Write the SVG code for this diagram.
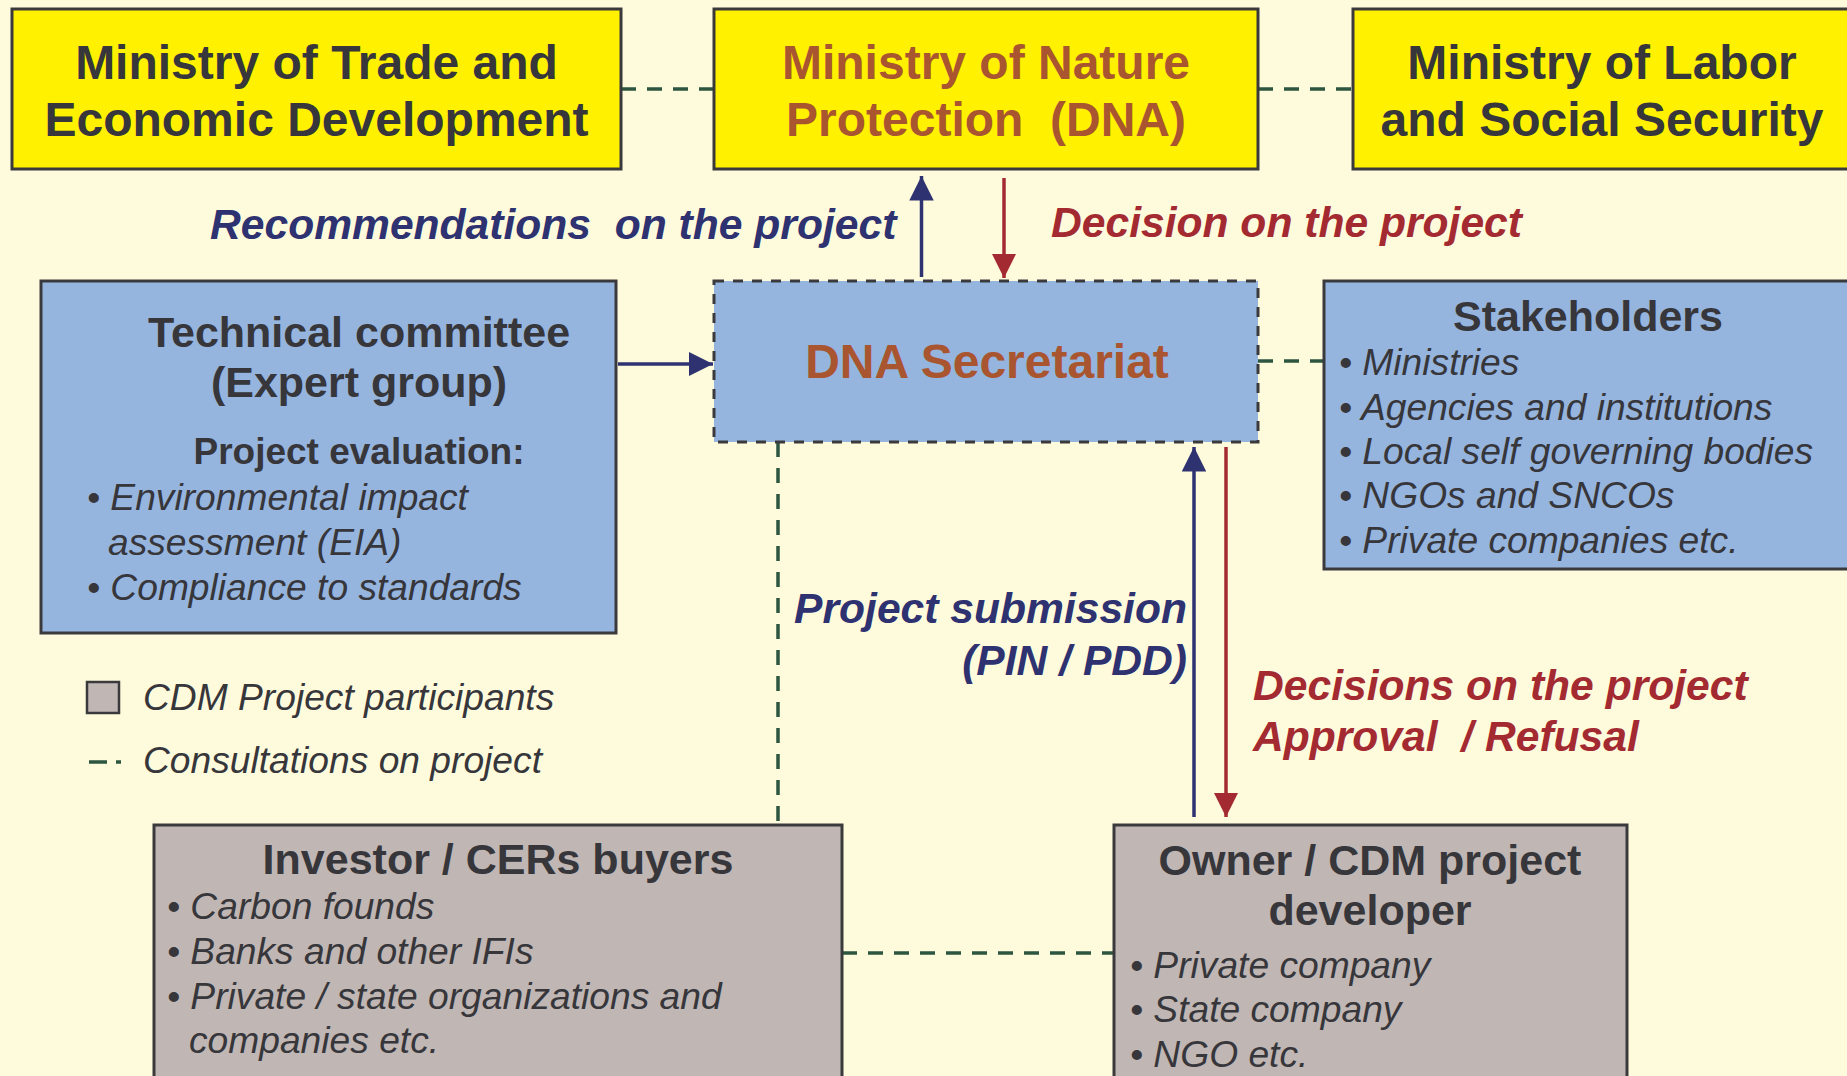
<svg xmlns="http://www.w3.org/2000/svg" width="1847" height="1076" viewBox="0 0 1847 1076">
<defs>
<style>
.bg{fill:#FEFBDD}
.yel{fill:#FFF100;stroke:#3A3A3C;stroke-width:3}
.blu{fill:#95B4DE;stroke:#3A3A3C;stroke-width:3}
.gry{fill:#C0B6B4;stroke:#3A3A3C;stroke-width:3}
.sec{fill:#95B4DE;stroke:#3A3A3C;stroke-width:3;stroke-dasharray:10 9}
text{font-family:"Liberation Sans",Arial,Helvetica,sans-serif;fill:#36363B}
.t48{font-size:48px;font-weight:bold}
.h42{font-size:43px;font-weight:bold}
.h37{font-size:37px;font-weight:bold}
.it{font-size:37.2px;font-style:italic}
.c{text-anchor:middle}
.brown{fill:#A9552F}
.navy{fill:#2E3270;font-size:42.6px;font-weight:bold;font-style:italic;white-space:pre}
.red{fill:#A42A31;font-size:42.6px;font-weight:bold;font-style:italic;white-space:pre}
.cons{fill:none;stroke:#2C5640;stroke-width:3.5;stroke-dasharray:15 11}
.nv{stroke:#2E3270;stroke-width:3.5;fill:none}
.rd{stroke:#A42A31;stroke-width:3.5;fill:none}
</style>
<marker id="ahN" viewBox="0 0 10 10" refX="10" refY="5" markerWidth="7" markerHeight="7" markerUnits="strokeWidth" orient="auto"><path d="M0,0 L10,5 L0,10 Z" fill="#2E3270"/></marker>
<marker id="ahR" viewBox="0 0 10 10" refX="10" refY="5" markerWidth="7" markerHeight="7" markerUnits="strokeWidth" orient="auto"><path d="M0,0 L10,5 L0,10 Z" fill="#A42A31"/></marker>
</defs>
<rect class="bg" x="0" y="0" width="1847" height="1076"/>

<g id="connectors">
<line class="cons" x1="621" y1="89" x2="714" y2="89"/>
<line class="cons" x1="1258" y1="89" x2="1353" y2="89"/>
<line class="cons" x1="1258" y1="361" x2="1324" y2="361"/>
<line class="cons" x1="778" y1="442" x2="778" y2="825"/>
<line class="cons" x1="842" y1="953" x2="1114" y2="953"/>
<line class="nv" x1="921.5" y1="277" x2="921.5" y2="176" marker-end="url(#ahN)"/>
<line class="rd" x1="1004" y1="178" x2="1004" y2="278" marker-end="url(#ahR)"/>
<line class="nv" x1="618" y1="364" x2="713" y2="364" marker-end="url(#ahN)"/>
<line class="nv" x1="1194" y1="817" x2="1194" y2="447" marker-end="url(#ahN)"/>
<line class="rd" x1="1226" y1="447" x2="1226" y2="817" marker-end="url(#ahR)"/>
</g>

<g id="labels">
<text class="navy" x="210" y="239">Recommendations  on the project</text>
<text class="red" x="1051" y="237">Decision on the project</text>
<text class="navy" x="1187" y="623" text-anchor="end">Project submission</text>
<text class="navy" x="1187" y="675" text-anchor="end">(PIN / PDD)</text>
<text class="red" x="1253" y="700">Decisions on the project</text>
<text class="red" x="1253" y="751">Approval  / Refusal</text>
</g>

<g id="ministry-trade">
<rect class="yel" x="12" y="9" width="609" height="160"/>
<text class="t48 c" x="316.5" y="79">Ministry of Trade and</text>
<text class="t48 c" x="316.5" y="136">Economic Development</text>
</g>

<g id="ministry-nature">
<rect class="yel" x="714" y="9" width="544" height="160"/>
<text class="t48 c brown" x="986" y="79">Ministry of Nature</text>
<text class="t48 c brown" x="986" y="136" style="white-space:pre">Protection  (DNA)</text>
</g>

<g id="ministry-labor">
<rect class="yel" x="1353" y="9" width="500" height="160"/>
<text class="t48 c" x="1602" y="79">Ministry of Labor</text>
<text class="t48 c" x="1602" y="136">and Social Security</text>
</g>

<g id="technical-committee">
<rect class="blu" x="41" y="281" width="575" height="352"/>
<text class="h42 c" x="359" y="347">Technical committee</text>
<text class="h42 c" x="359" y="397">(Expert group)</text>
<text class="h37 c" x="359" y="464">Project evaluation:</text>
<text class="it" x="87" y="510">• Environmental impact</text>
<text class="it" x="108" y="555">assessment (EIA)</text>
<text class="it" x="87" y="600">• Compliance to standards</text>
</g>

<g id="dna-secretariat">
<rect class="sec" x="714" y="281" width="544" height="161"/>
<text class="t48 c brown" x="987" y="378">DNA Secretariat</text>
</g>

<g id="stakeholders">
<rect class="blu" x="1324" y="281" width="530" height="288"/>
<text class="h42 c" x="1588" y="331">Stakeholders</text>
<text class="it" x="1339" y="375">• Ministries</text>
<text class="it" x="1339" y="420">• Agencies and institutions</text>
<text class="it" x="1339" y="464">• Local self governing bodies</text>
<text class="it" x="1339" y="508">• NGOs and SNCOs</text>
<text class="it" x="1339" y="553">• Private companies etc.</text>
</g>

<g id="legend">
<rect x="87" y="682" width="32" height="31" fill="#C0B6B4" stroke="#3A3A3C" stroke-width="2.5"/>
<text class="it" x="143" y="710">CDM Project participants</text>
<line class="cons" x1="89" y1="762" x2="121" y2="762" style="stroke-dasharray:18 9"/>
<text class="it" x="143" y="773">Consultations on project</text>
</g>

<g id="investor">
<rect class="gry" x="154" y="825" width="688" height="300"/>
<text class="h42 c" x="498" y="874">Investor / CERs buyers</text>
<text class="it" x="167" y="919">• Carbon founds</text>
<text class="it" x="167" y="964">• Banks and other IFIs</text>
<text class="it" x="167" y="1009">• Private / state organizations and</text>
<text class="it" x="189" y="1053">companies etc.</text>
</g>

<g id="owner">
<rect class="gry" x="1114" y="825" width="513" height="300"/>
<text class="h42 c" x="1370" y="875">Owner / CDM project</text>
<text class="h42 c" x="1370" y="925">developer</text>
<text class="it" x="1130" y="978">• Private company</text>
<text class="it" x="1130" y="1022">• State company</text>
<text class="it" x="1130" y="1067">• NGO etc.</text>
</g>
</svg>
